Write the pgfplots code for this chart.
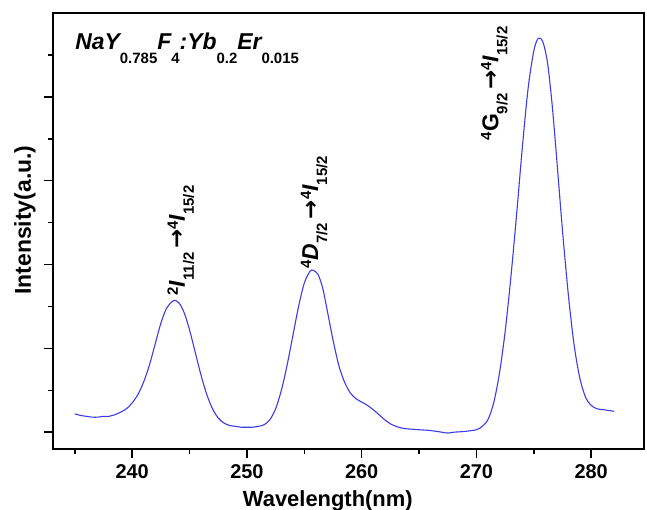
\documentclass[border=0pt]{standalone}
\usepackage{pgfplots}
\pgfplotsset{compat=1.18}
\usepackage{fontspec}
\setmainfont{Liberation Sans}
\newfontfamily\djv{DejaVu Sans}
\definecolor{curve}{RGB}{60,60,235}
\newcommand\tsub[1]{\raisebox{-14bp}{\fontsize{15}{15}\selectfont\upshape #1}}
\newcommand\asub[1]{\raisebox{-9bp}{\fontsize{15}{15}\selectfont\upshape #1}}
\newcommand\asup[1]{\raisebox{7bp}{\fontsize{15}{15}\selectfont\upshape #1}}
\newcommand\arr{{\djv\bfseries\upshape\,→}}
\pgfplotstableread{
w v
235.0 0.22
235.5 0.20
236.0 0.19
236.5 0.18
237.0 0.18
237.5 0.19
238.0 0.19
238.5 0.21
239.0 0.24
239.5 0.28
240.0 0.35
240.5 0.45
241.0 0.60
241.5 0.80
242.0 1.05
242.5 1.30
243.0 1.48
243.5 1.56
243.8 1.57
244.2 1.52
244.6 1.40
245.0 1.22
245.5 0.95
246.0 0.68
246.5 0.45
247.0 0.28
247.5 0.17
248.0 0.11
248.5 0.08
249.0 0.07
249.5 0.06
250.0 0.06
250.5 0.06
251.0 0.07
251.5 0.09
252.0 0.15
252.5 0.28
253.0 0.50
253.5 0.80
254.0 1.15
254.5 1.50
255.0 1.78
255.5 1.92
255.8 1.93
256.2 1.88
256.6 1.72
257.0 1.45
257.5 1.10
258.0 0.80
258.5 0.60
259.0 0.47
259.5 0.40
260.0 0.36
260.5 0.32
261.0 0.27
261.5 0.21
262.0 0.15
262.5 0.10
263.0 0.07
263.5 0.05
264.0 0.04
265.0 0.03
266.0 0.02
267.0 0.00
267.5 -0.01
268.0 0.00
269.0 0.01
270.0 0.03
270.5 0.07
271.0 0.15
271.5 0.35
272.0 0.70
272.5 1.20
273.0 1.85
273.5 2.60
274.0 3.40
274.5 4.10
275.0 4.55
275.4 4.70
275.8 4.65
276.2 4.40
276.6 3.90
277.0 3.25
277.5 2.40
278.0 1.65
278.5 1.05
279.0 0.65
279.5 0.42
280.0 0.32
280.5 0.28
281.0 0.27
281.5 0.26
282.0 0.25
}\spectrum
\begin{document}
\begin{tikzpicture}
\useasboundingbox (-53bp,-61bp) rectangle (594bp,449bp);
\begin{axis}[
  at={(0,0)}, anchor=south west,
  scale only axis, width=591bp, height=436bp,
  xmin=233.1, xmax=284.6, ymin=-0.2, ymax=5,
  axis line style={line width=1.5bp},
  xtick={240,250,...,280}, minor xtick={235,245,...,275},
  ytick={0,1,2,3,4}, minor ytick={0.5,1.5,2.5,3.5,4.5}, yticklabels={},
  tick align=outside, tick pos=left,
  major tick length=9bp, minor tick length=5bp,
  every tick/.style={black, line width=1.5bp},
  /pgf/number format/assume math mode=true,
  tick label style={font=\fontsize{20}{20}\selectfont\bfseries},
  xticklabel style={yshift=-3bp},
  xlabel={Wavelength(nm)},
  xlabel style={at={(axis description cs:0.465,0)}, anchor=base, yshift=-57bp, font=\fontsize{22}{22}\selectfont\bfseries},
  ylabel={Intensity(a.u.)},
  ylabel style={at={(axis description cs:0,0.525)}, anchor=base, yshift=22bp, font=\fontsize{23}{23}\selectfont\bfseries},
  clip=false,
]
\addplot[curve, line width=1.1bp, smooth, tension=0.5] table[x=w, y=v] {\spectrum};
\node[anchor=base west, inner sep=0pt, font=\fontsize{23}{23}\selectfont\bfseries\itshape] at (axis cs:235.03,4.56)
  {NaY\tsub{0.785}F\tsub{4}:Yb\tsub{0.2}Er\tsub{0.015}};
\node[rotate=90, anchor=base west, inner sep=0pt, font=\fontsize{23}{23}\selectfont\bfseries\itshape] at (axis cs:244.6,1.63)
  {\asup{2}I\asub{11/2}\arr\asup{4}I\asub{15/2}};
\node[rotate=90, anchor=base west, inner sep=0pt, font=\fontsize{23}{23}\selectfont\bfseries\itshape] at (axis cs:256.2,1.95)
  {\asup{4}D\asub{7/2}\arr\asup{4}I\asub{15/2}};
\node[rotate=90, anchor=base west, inner sep=0pt, font=\fontsize{23}{23}\selectfont\bfseries] at (axis cs:271.9,3.48)
  {\asup{4}G\asub{9/2}\arr\asup{4}\itshape I\asub{15/2}};
\end{axis}
\end{tikzpicture}
\end{document}
